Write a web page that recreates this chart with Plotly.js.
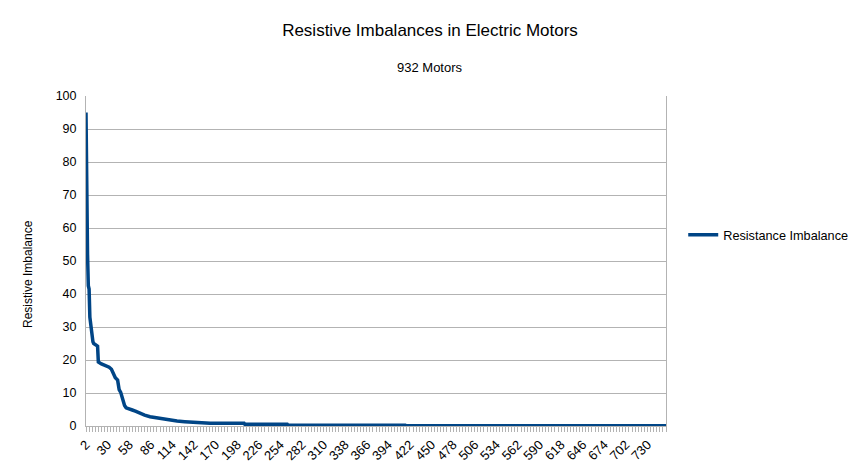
<!DOCTYPE html>
<html>
<head>
<meta charset="utf-8">
<script src="https://cdn.plot.ly/plotly-3.0.1.min.js"></script>
<style>
  html, body { margin: 0; padding: 0; background: white; }
  #chart { width: 861px; height: 471px; }
</style>
</head>
<body>
<div id="chart"></div>
<script>
// motors sorted by imbalance (row number -> imbalance)
const motorRow = [2, 3, 4, 5, 6, 7, 8, 9, 10, 11, 12, 13, 14, 15, 16, 17, 18, 19, 20,
    22, 25, 28, 32, 35, 38, 40, 43, 44, 45, 47, 49, 50, 52, 54, 58, 62, 66, 72, 78,
    85, 92, 98, 105, 111, 120, 130, 143, 156, 163, 207, 208, 263, 264, 416, 417, 754];
const imbalance = [95, 54, 52, 42.5, 41.5, 33, 31, 29, 26.5, 25.5, 25, 24.8, 24.6, 24.5, 24.4, 24.2, 19.4, 19.2, 19,
    18.8, 18.5, 18.2, 17.8, 17.2, 15.5, 14.6, 13.9, 12, 11, 10.2, 8.5, 7.4, 6.2, 5.5, 5.3, 4.85, 4.5, 3.8, 3.3,
    2.8, 2.5, 2.3, 2.0, 1.8, 1.5, 1.3, 1.15, 1.0, 0.8, 0.8, 0.5, 0.5, 0.25, 0.25, 0.1, 0.1];
const xTickVals = [2, 30, 58, 86, 114, 142, 170, 198, 226, 254, 282, 310, 338, 366, 394,
    422, 450, 478, 506, 534, 562, 590, 618, 646, 674, 702, 730];
const yTickVals = [0, 10, 20, 30, 40, 50, 60, 70, 80, 90, 100];

const chartElement = document.getElementById('chart');
const gridGray = '#b3b3b3';

const trace = {
    x: motorRow,
    y: imbalance,
    name: 'Resistance Imbalance',
    type: 'scatter',
    mode: 'lines',
    line: { color: '#004586', width: 3.5 }
};

const layout = {
    width: 861,
    height: 471,
    paper_bgcolor: 'white',
    plot_bgcolor: 'white',
    font: { family: 'Liberation Sans, Arial, sans-serif', size: 12, color: '#000' },
    margin: { l: 86, r: 195, t: 96, b: 45, pad: 0, autoexpand: false },
    title: {
        text: 'Resistive Imbalances in Electric Motors',
        font: { size: 17, color: '#000' },
        x: 430 / 861, xref: 'container', xanchor: 'center',
        y: 1 - 30 / 471, yref: 'container', yanchor: 'middle'
    },
    showlegend: true,
    legend: {
        x: 1.0297, xanchor: 'left',
        y: (426 - 235) / 330, yanchor: 'middle',
        font: { size: 12.7 },
        bgcolor: 'rgba(0,0,0,0)'
    },
    xaxis: {
        type: 'linear',
        range: [2, 754],
        tickvals: xTickVals,
        ticktext: xTickVals.map(String),
        tickangle: -45,
        showgrid: false,
        zeroline: false,
        showline: true,
        linecolor: gridGray,
        ticks: 'outside',
        ticklen: 5,
        tickcolor: gridGray,
        minor: { dtick: 4, tick0: 2, ticks: 'outside', ticklen: 5, tickcolor: gridGray, showgrid: false },
        tickfont: { size: 13 }
    },
    yaxis: {
        range: [0, 100],
        tickvals: yTickVals,
        showgrid: true,
        gridcolor: gridGray,
        zeroline: false,
        showline: true,
        mirror: true,
        linecolor: gridGray,
        ticks: '',
        ticklabelstandoff: 6,
        tickfont: { size: 12.5 }
    },
    annotations: [
        {
            text: '932 Motors',
            xref: 'paper', yref: 'paper',
            x: (430 - 86) / 580, y: (426 - 67) / 330,
            xanchor: 'center', yanchor: 'middle',
            showarrow: false,
            font: { size: 13 }
        },
        {
            text: 'Resistive Imbalance',
            xref: 'paper', yref: 'paper',
            x: (28 - 86) / 580, y: (426 - 274) / 330,
            xanchor: 'center', yanchor: 'middle',
            textangle: -90,
            showarrow: false,
            font: { size: 12 }
        }
    ]
};

Plotly.newPlot(chartElement, [trace], layout, { displayModeBar: false, staticPlot: true });
</script>
</body>
</html>
